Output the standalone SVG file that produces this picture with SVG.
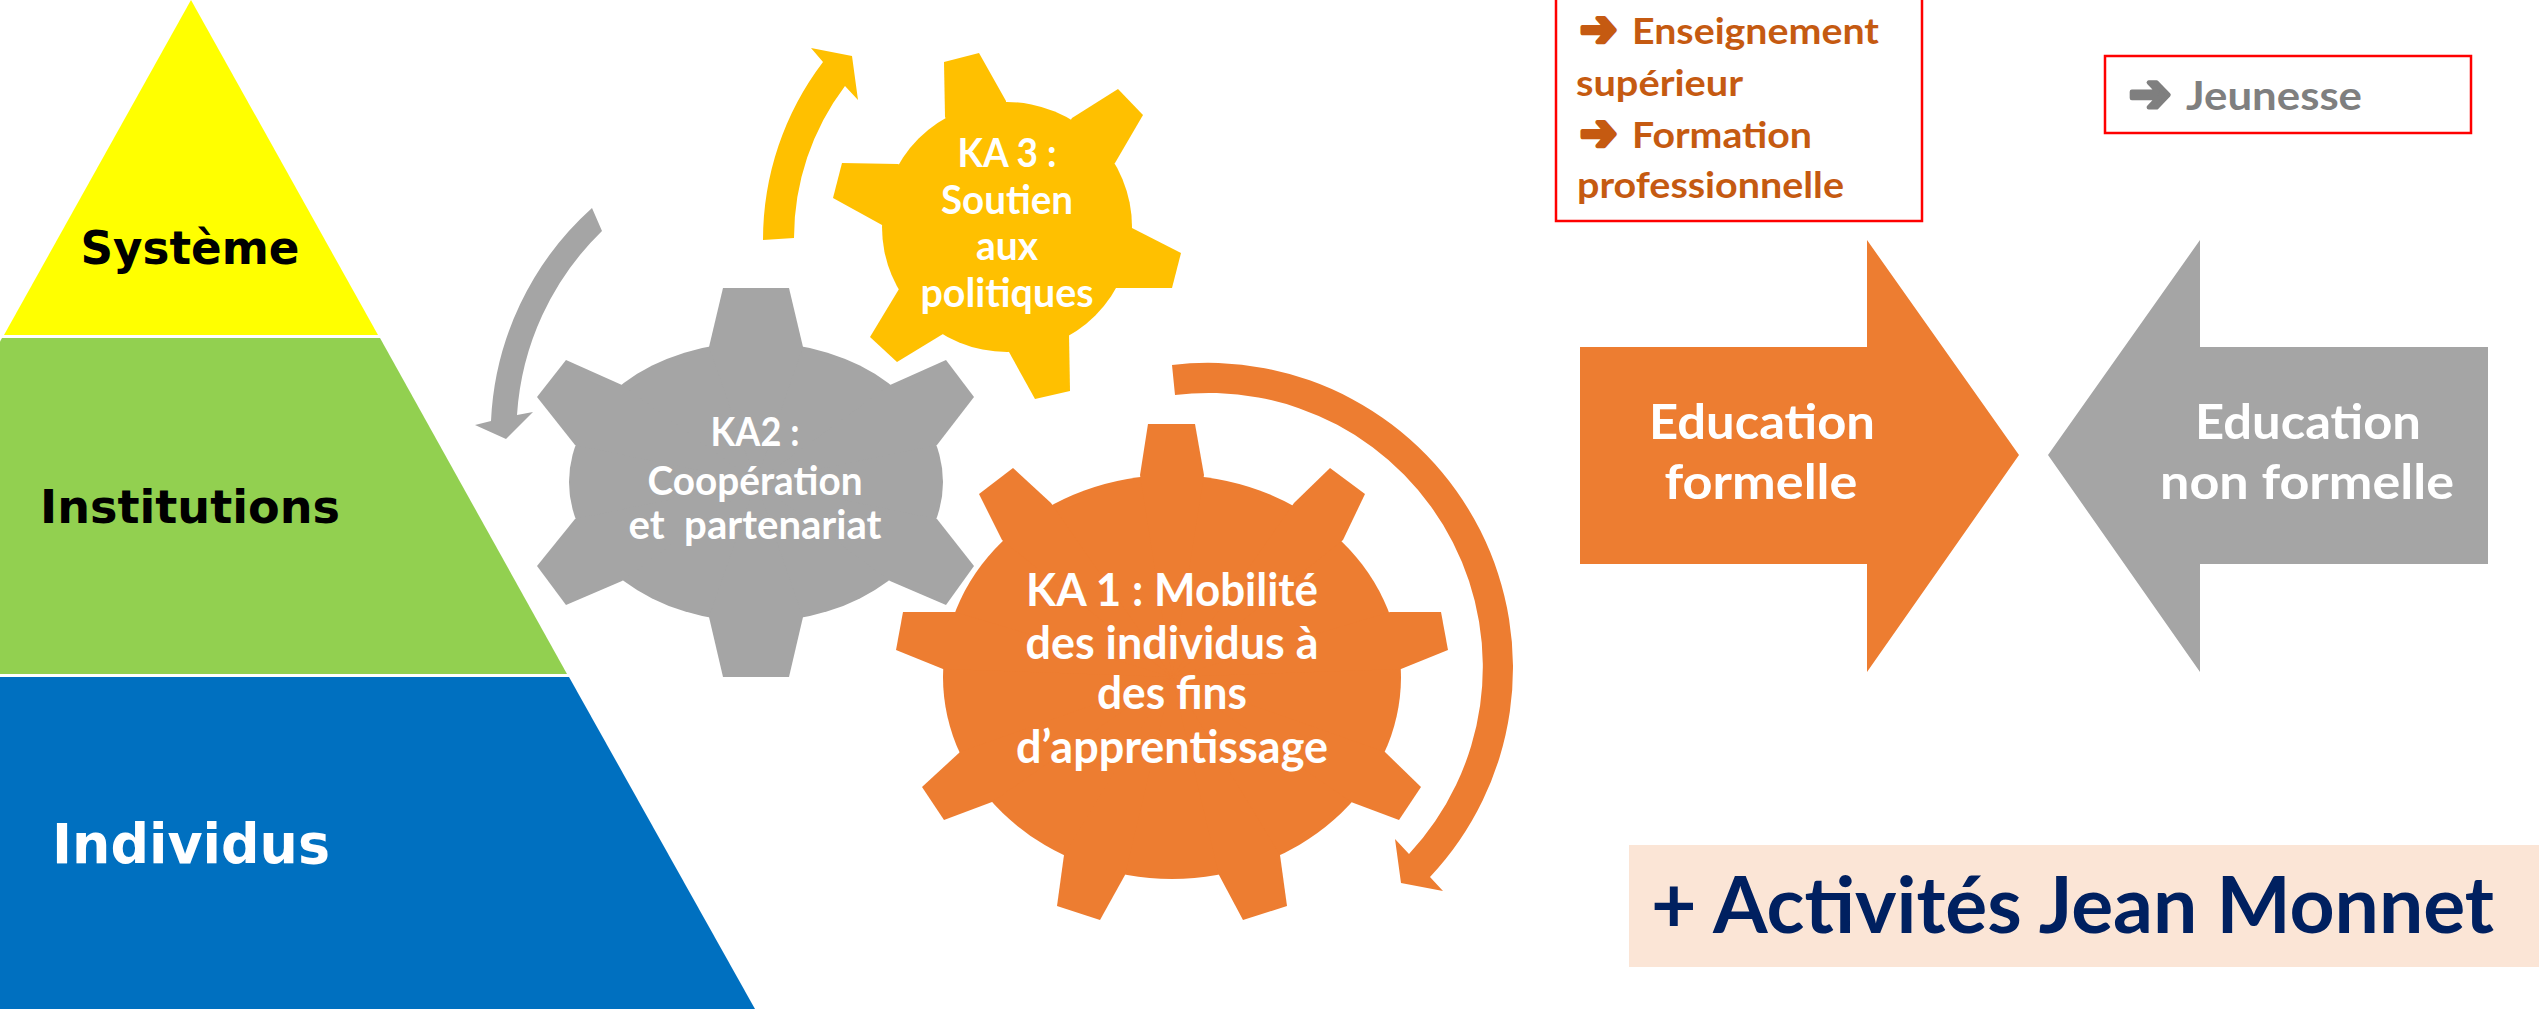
<svg xmlns="http://www.w3.org/2000/svg" width="2539" height="1009" viewBox="0 0 2539 1009">
<style>
.pyr{font-family:"DejaVu Sans","Liberation Sans",sans-serif;font-weight:bold;text-anchor:middle}
.cal{font-family:Lato,"Open Sans",sans-serif;font-weight:bold;text-anchor:middle}
.lft{font-family:Lato,"Open Sans",sans-serif;font-weight:bold;text-anchor:start}
.sym{font-family:"DejaVu Sans",sans-serif;font-weight:bold;text-anchor:start;stroke-width:4.5;stroke-linejoin:round}
.w{fill:#FFFFFF}
.box{fill:#FFFFFF;stroke:#FF0000;stroke-width:2.5}
</style>
<rect x="0" y="0" width="2539" height="1009" fill="#FFFFFF"/>

<g id="pyramide">
  <polygon points="191,0 378,335 4,335" fill="#FFFF00"/>
  <polygon points="380,338 567,674 -185,674 2,338" fill="#92D050"/>
  <polygon points="569,677 755,1009 -372,1009 -187,677" fill="#0070C0"/>
  <text class="pyr" x="190" y="264" font-size="46" textLength="219" lengthAdjust="spacingAndGlyphs" fill="#000000">Système</text>
  <text class="pyr" x="190" y="523" font-size="47" textLength="300" lengthAdjust="spacingAndGlyphs" fill="#000000">Institutions</text>
  <text class="pyr w" x="191" y="863" font-size="55" textLength="278" lengthAdjust="spacingAndGlyphs">Individus</text>
</g>

<g id="connectors">
  <path d="M592,208 A305,305 0 0 0 491,421 L475,425 L506,439 L533,412 L517,415 A282,282 0 0 1 602,231 Z" fill="#A5A5A5"/>
  <path d="M763,240 A294,294 0 0 1 823,62 L811,48 L852,56 L858,100 L845,86 A252,252 0 0 0 794,238 Z" fill="#FFC000"/>
  <path d="M1172,365 A305,305 0 0 1 1430,877 L1443,891 L1401,883 L1395,839 L1409,854 A274,274 0 0 0 1175,395 Z" fill="#ED7D31"/>
</g>

<g id="ka3" fill="#FFC000">
  <circle cx="1007" cy="227" r="125"/>
  <polygon points="945,117 944,62 979,53 1006,101 1007,227"/>
  <polygon points="1072,118 1118,89 1143,115 1115,163 1007,227"/>
  <polygon points="1132,228 1181,253 1172,288 1116,288 1007,227"/>
  <polygon points="1069,334 1070,391 1035,399 1009,352 1007,227"/>
  <polygon points="943,334 897,362 870,337 899,289 1007,227"/>
  <polygon points="882,225 833,198 842,163 898,164 1007,227"/>
  <text class="cal w" x="1007" y="167" font-size="41" textLength="99" lengthAdjust="spacingAndGlyphs">KA 3 :</text>
  <text class="cal w" x="1007" y="214" font-size="41" textLength="132" lengthAdjust="spacingAndGlyphs">Soutien</text>
  <text class="cal w" x="1007" y="260" font-size="41" textLength="62" lengthAdjust="spacingAndGlyphs">aux</text>
  <text class="cal w" x="1007" y="307" font-size="41" textLength="173" lengthAdjust="spacingAndGlyphs">politiques</text>
</g>

<g id="ka2" fill="#A5A5A5">
  <ellipse cx="756" cy="482" rx="187" ry="140"/>
  <polygon points="709,347 723,288 789,288 803,347 756,482"/>
  <polygon points="622,385 566,360 537,397 575,445 756,482"/>
  <polygon points="890,385 946,360 974,397 937,445 756,482"/>
  <polygon points="575,519 537,566 566,605 622,581 756,482"/>
  <polygon points="937,519 974,566 946,605 890,581 756,482"/>
  <polygon points="709,617 723,677 789,677 803,617 756,482"/>
  <text class="cal w" x="755" y="446" font-size="41" textLength="89" lengthAdjust="spacingAndGlyphs">KA2 :</text>
  <text class="cal w" x="755" y="495" font-size="41" textLength="215" lengthAdjust="spacingAndGlyphs">Coopération</text>
  <text class="cal w" x="755" y="539" font-size="41" textLength="253" lengthAdjust="spacingAndGlyphs" xml:space="preserve">et  partenariat</text>
</g>

<g id="ka1" fill="#ED7D31">
  <ellipse cx="1172" cy="677" rx="229" ry="202"/>
  <polygon points="1140,475 1148,424 1195,424 1204,475 1172,677"/>
  <polygon points="1294,503 1330,468 1365,494 1343,540 1172,677"/>
  <polygon points="1390,612 1441,612 1448,650 1401,669 1172,677"/>
  <polygon points="1385,752 1421,787 1399,820 1351,802 1172,677"/>
  <polygon points="1280,855 1287,906 1243,920 1219,875 1172,677"/>
  <polygon points="1125,875 1100,920 1057,906 1064,855 1172,677"/>
  <polygon points="992,802 944,820 922,787 960,752 1172,677"/>
  <polygon points="943,669 896,650 903,612 955,612 1172,677"/>
  <polygon points="1002,540 979,494 1013,468 1051,503 1172,677"/>
  <text class="cal w" x="1172" y="606" font-size="46" textLength="292" lengthAdjust="spacingAndGlyphs">KA 1 : Mobilité</text>
  <text class="cal w" x="1172" y="659" font-size="46" textLength="293" lengthAdjust="spacingAndGlyphs">des individus à</text>
  <text class="cal w" x="1172" y="709" font-size="46" textLength="150" lengthAdjust="spacingAndGlyphs">des fins</text>
  <text class="cal w" x="1172" y="763" font-size="46" textLength="312" lengthAdjust="spacingAndGlyphs">d’apprentissage</text>
</g>

<g id="formel-secteurs">
  <rect class="box" x="1556" y="-3" width="366" height="224"/>
  <text class="sym" x="1580" y="46" font-size="50" textLength="37" lengthAdjust="spacingAndGlyphs" fill="#C55A11" stroke="#C55A11">➔</text>
  <text class="lft" x="1632" y="44" font-size="36" textLength="247" lengthAdjust="spacingAndGlyphs" fill="#C55A11">Enseignement</text>
  <text class="lft" x="1576" y="96" font-size="36" textLength="167" lengthAdjust="spacingAndGlyphs" fill="#C55A11">supérieur</text>
  <text class="sym" x="1580" y="150" font-size="50" textLength="37" lengthAdjust="spacingAndGlyphs" fill="#C55A11" stroke="#C55A11">➔</text>
  <text class="lft" x="1632" y="148" font-size="36" textLength="180" lengthAdjust="spacingAndGlyphs" fill="#C55A11">Formation</text>
  <text class="lft" x="1577" y="198" font-size="36" textLength="267" lengthAdjust="spacingAndGlyphs" fill="#C55A11">professionnelle</text>
</g>

<g id="jeunesse">
  <rect class="box" x="2105" y="56" width="366" height="77"/>
  <text class="sym" x="2129" y="111" font-size="52" textLength="42" lengthAdjust="spacingAndGlyphs" fill="#7F7F7F" stroke="#7F7F7F">➔</text>
  <text class="lft" x="2186" y="110" font-size="40" textLength="176" lengthAdjust="spacingAndGlyphs" fill="#7F7F7F">Jeunesse</text>
</g>

<g id="education-formelle">
  <polygon points="1580,347 1867,347 1867,240 2019,455 1867,672 1867,564 1580,564" fill="#ED7D31"/>
  <text class="cal w" x="1762" y="439" font-size="48" textLength="226" lengthAdjust="spacingAndGlyphs">Education</text>
  <text class="cal w" x="1761" y="499" font-size="48" textLength="193" lengthAdjust="spacingAndGlyphs">formelle</text>
</g>

<g id="education-non-formelle">
  <polygon points="2488,347 2200,347 2200,240 2048,455 2200,672 2200,564 2488,564" fill="#A5A5A5"/>
  <text class="cal w" x="2308" y="439" font-size="48" textLength="226" lengthAdjust="spacingAndGlyphs">Education</text>
  <text class="cal w" x="2307" y="499" font-size="48" textLength="294" lengthAdjust="spacingAndGlyphs">non formelle</text>
</g>

<g id="jean-monnet">
  <rect x="1629" y="845" width="910" height="122" fill="#FBE5D6"/>
  <text class="lft" x="1651" y="933" font-size="78" textLength="843" lengthAdjust="spacingAndGlyphs" fill="#002060">+ Activités Jean Monnet</text>
</g>
</svg>
